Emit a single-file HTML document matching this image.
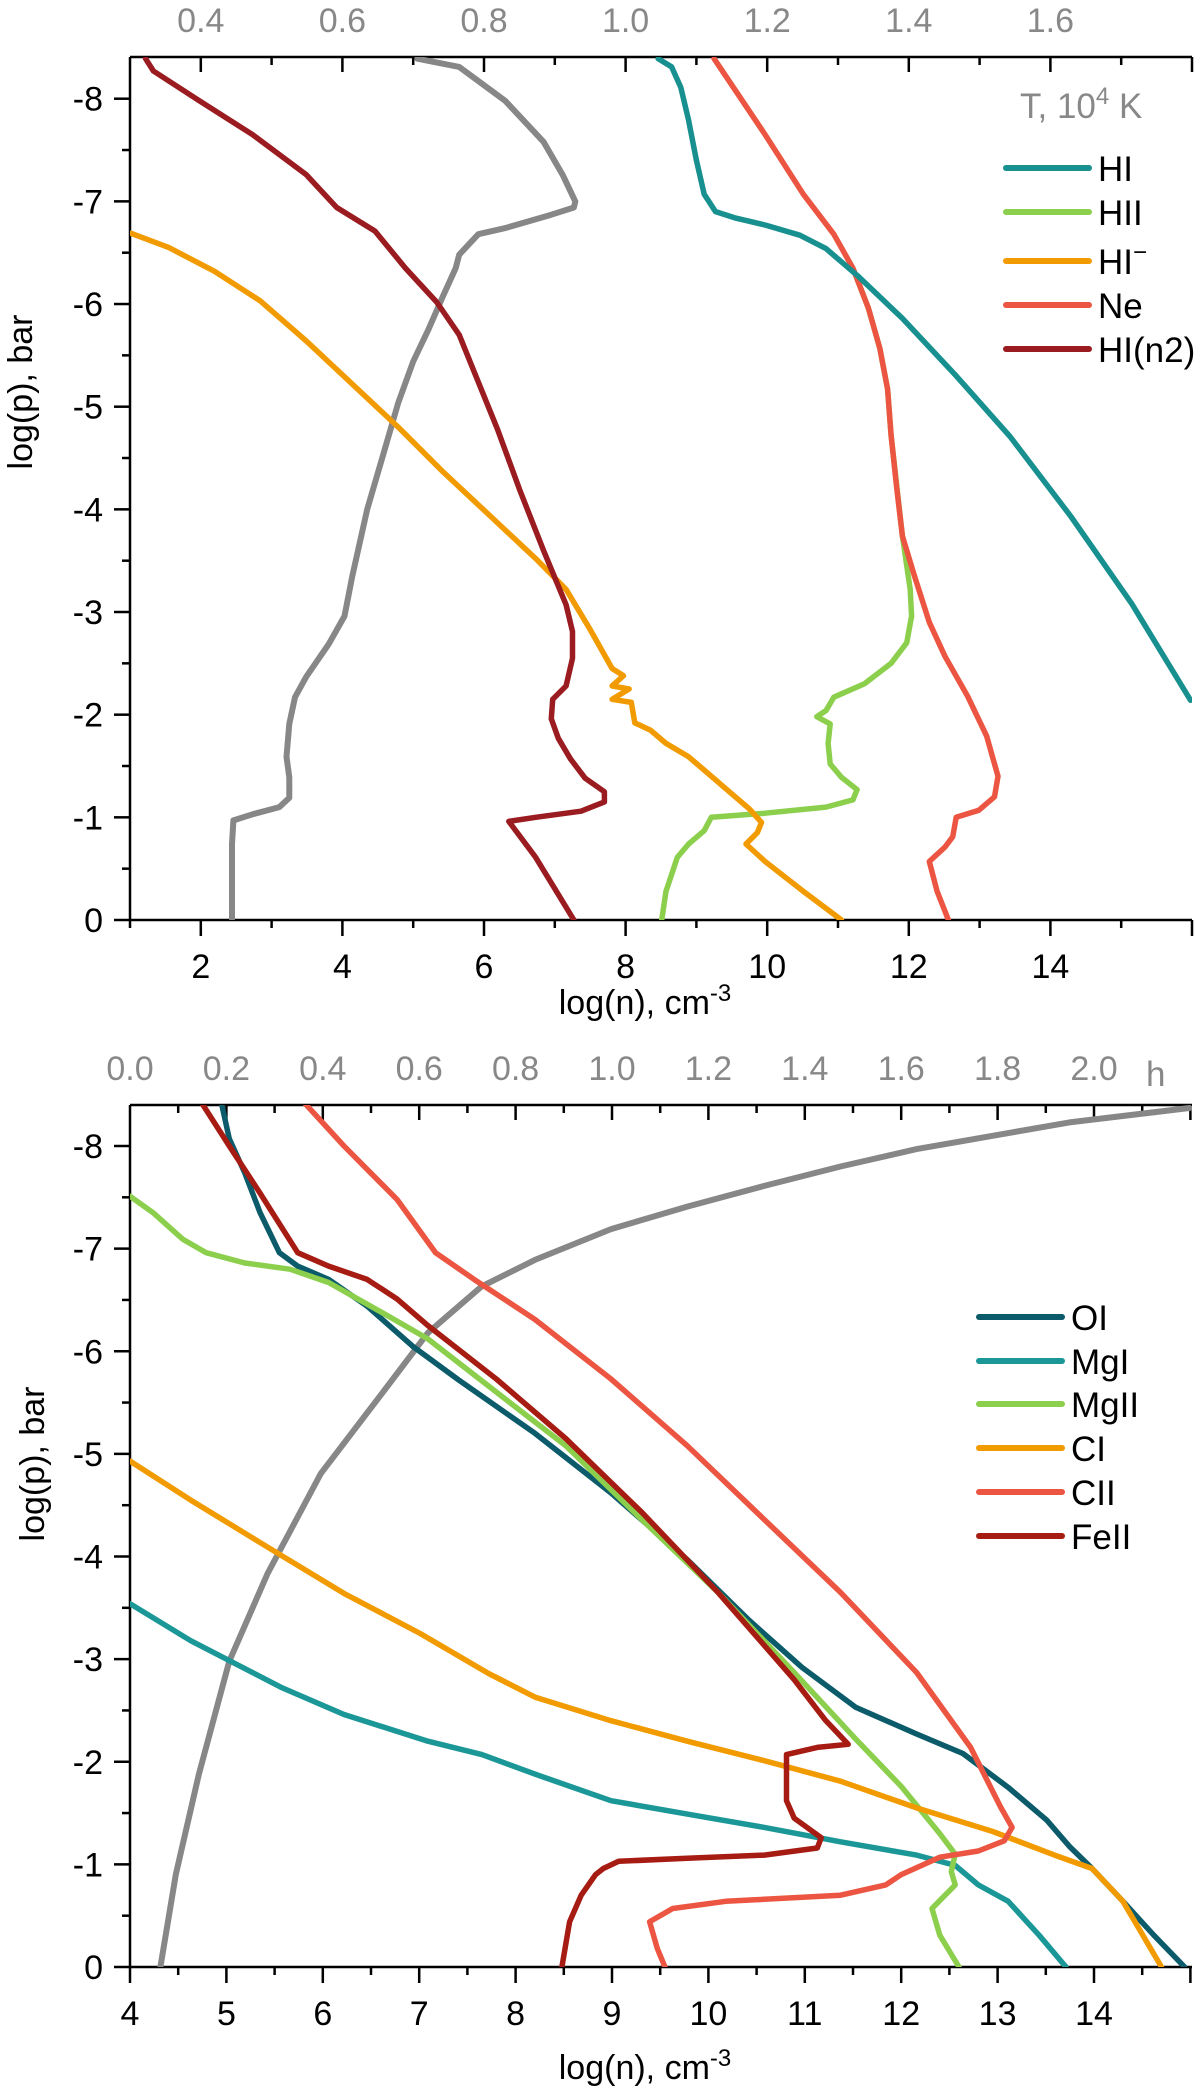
<!DOCTYPE html>
<html><head><meta charset="utf-8"><style>
html,body{margin:0;padding:0;background:#fff;}
svg{display:block;font-family:"Liberation Sans",Arial,sans-serif;}
</style></head><body>
<svg id="chart" width="1200" height="2088" viewBox="0 0 1200 2088" xmlns="http://www.w3.org/2000/svg"></svg>
<script>
// ---------- Top panel data (log n, log p) ----------
const hiN=[8.46,8.65,8.78,8.89,9.00,9.11,9.27,9.54,9.97,10.46,10.83,11.27,11.91,12.67,13.43,14.29,15.15,15.98];
const hiP=[-8.39,-8.31,-8.11,-7.79,-7.40,-7.07,-6.90,-6.84,-6.77,-6.67,-6.54,-6.28,-5.86,-5.30,-4.71,-3.93,-3.08,-2.14];
const hiiN=[11.21,11.43,11.59,11.70,11.75,11.91,12.02,12.04,11.97,11.75,11.37,10.94,10.83,10.70,10.89,10.86,10.89,11.05,11.27,11.21,10.83,9.97,9.21,9.11,8.89,8.73,8.57,8.51];
const hiiP=[-6.35,-5.96,-5.57,-5.17,-4.72,-3.74,-3.22,-2.96,-2.70,-2.50,-2.30,-2.17,-2.04,-1.98,-1.91,-1.72,-1.52,-1.39,-1.27,-1.17,-1.10,-1.04,-1.00,-0.87,-0.74,-0.61,-0.28,0];
const himN=[1.01,1.55,2.19,2.84,3.49,4.14,4.79,5.43,6.08,6.73,7.16,7.49,7.81,7.97,7.81,8.05,7.81,8.08,8.13,8.35,8.57,8.89,9.11,9.43,9.75,9.92,9.86,9.70,9.97,10.51,11.05];
const himP=[-6.69,-6.55,-6.32,-6.03,-5.64,-5.22,-4.80,-4.36,-3.94,-3.52,-3.22,-2.84,-2.45,-2.38,-2.28,-2.25,-2.15,-2.12,-1.92,-1.85,-1.72,-1.59,-1.46,-1.27,-1.08,-0.95,-0.85,-0.74,-0.57,-0.28,0];
const neN=[9.25,9.97,10.51,10.94,11.21,11.43,11.59,11.70,11.75,11.83,11.91,12.08,12.29,12.51,12.83,13.10,13.26,13.21,12.99,12.67,12.62,12.51,12.29,12.40,12.56];
const neP=[-8.39,-7.65,-7.07,-6.68,-6.35,-5.96,-5.57,-5.17,-4.72,-4.20,-3.74,-3.35,-2.90,-2.57,-2.18,-1.79,-1.40,-1.20,-1.07,-1.00,-0.81,-0.71,-0.57,-0.28,0];
const n2N=[1.22,1.33,1.98,2.73,3.49,3.92,4.46,4.89,5.33,5.65,5.92,6.19,6.51,6.84,7.16,7.25,7.25,7.16,6.97,6.95,7.05,7.22,7.43,7.70,7.70,7.37,6.73,6.35,6.73,7.27];
const n2P=[-8.39,-8.27,-7.98,-7.65,-7.26,-6.94,-6.71,-6.35,-6.02,-5.70,-5.24,-4.78,-4.18,-3.60,-3.07,-2.81,-2.55,-2.28,-2.15,-1.96,-1.77,-1.57,-1.38,-1.25,-1.15,-1.06,-1.00,-0.96,-0.61,0];
// temperature profile (T in 1e4 K, log p)
const tempT=[0.706,0.765,0.830,0.884,0.911,0.929,0.927,0.895,0.830,0.792,0.765,0.760,0.743,0.722,0.700,0.679,0.657,0.635,0.614,0.603,0.581,0.549,0.533,0.525,0.521,0.525,0.525,0.511,0.473,0.446,0.444,0.444];
const tempP=[-8.39,-8.31,-7.98,-7.58,-7.26,-7.00,-6.94,-6.87,-6.74,-6.68,-6.48,-6.35,-6.09,-5.76,-5.44,-5.04,-4.52,-4.00,-3.35,-2.96,-2.69,-2.37,-2.17,-1.91,-1.59,-1.39,-1.19,-1.10,-1.03,-0.97,-0.74,0];
const topXTicks=[2,4,6,8,10,12,14];
const topTTicks=["0.4","0.6","0.8","1.0","1.2","1.4","1.6"];
const yTicks=[-8,-7,-6,-5,-4,-3,-2,-1,0];

// ---------- Bottom panel data ----------
const oiN=[4.95,5.03,5.19,5.35,5.55,5.74,6.06,6.46,6.93,7.41,8.20,8.99,9.78,10.42,10.97,11.53,12.16,12.64,13.11,13.51,13.75,13.98,14.30,14.62,14.94];
const oiP=[-8.41,-8.07,-7.74,-7.35,-6.96,-6.83,-6.70,-6.44,-6.05,-5.72,-5.20,-4.62,-3.97,-3.38,-2.92,-2.53,-2.27,-2.08,-1.75,-1.43,-1.17,-0.96,-0.64,-0.31,0];
const mgiN=[4.00,4.63,5.58,6.22,7.09,7.65,8.20,8.99,9.78,10.58,11.37,12.16,12.56,12.80,13.11,13.43,13.71];
const mgiP=[-3.54,-3.18,-2.72,-2.46,-2.20,-2.07,-1.88,-1.62,-1.49,-1.36,-1.22,-1.09,-0.99,-0.80,-0.64,-0.31,0];
const mgiiN=[4.00,4.24,4.55,4.79,5.19,5.66,6.06,6.61,7.09,7.72,8.52,9.31,10.10,10.89,11.53,12.00,12.40,12.56,12.52,12.56,12.32,12.40,12.60];
const mgiiP=[-7.51,-7.35,-7.09,-6.96,-6.86,-6.80,-6.67,-6.38,-6.12,-5.66,-5.08,-4.36,-3.65,-2.87,-2.22,-1.76,-1.30,-1.10,-0.93,-0.80,-0.57,-0.31,0];
const ciN=[4.00,4.63,5.43,6.22,7.01,7.72,8.20,8.99,9.78,10.58,11.37,12.16,12.95,13.59,13.98,14.30,14.70];
const ciP=[-4.93,-4.55,-4.09,-3.64,-3.25,-2.86,-2.63,-2.40,-2.20,-2.01,-1.81,-1.55,-1.32,-1.09,-0.96,-0.64,0];
const ciiN=[5.82,6.22,6.77,7.17,7.57,8.20,8.99,9.78,10.58,11.37,12.16,12.72,13.03,13.15,13.07,12.80,12.40,12.00,11.84,11.37,10.18,9.63,9.39,9.47,9.55];
const ciiP=[-8.41,-8.00,-7.48,-6.96,-6.70,-6.31,-5.73,-5.08,-4.36,-3.65,-2.87,-2.14,-1.56,-1.36,-1.23,-1.13,-1.07,-0.90,-0.80,-0.70,-0.64,-0.57,-0.44,-0.18,0];
const feiiN=[4.75,5.03,5.35,5.74,6.06,6.46,6.77,7.09,7.80,8.52,9.31,10.10,10.89,11.21,11.45,11.13,10.81,10.81,10.81,10.89,11.17,11.13,10.58,9.78,9.07,8.91,8.83,8.68,8.56,8.48];
const feiiP=[-8.41,-8.00,-7.54,-6.96,-6.83,-6.70,-6.51,-6.25,-5.73,-5.15,-4.43,-3.65,-2.80,-2.41,-2.17,-2.14,-2.07,-1.88,-1.62,-1.45,-1.26,-1.16,-1.09,-1.06,-1.03,-0.96,-0.90,-0.70,-0.44,0];
// height profile (h, log p)
const hgtH=[0.063,0.095,0.143,0.206,0.285,0.396,0.523,0.618,0.729,0.840,0.998,1.157,1.315,1.474,1.632,1.791,1.949,2.198];
const hgtP=[0,-0.90,-1.88,-2.98,-3.83,-4.81,-5.59,-6.18,-6.63,-6.89,-7.19,-7.41,-7.61,-7.80,-7.97,-8.10,-8.23,-8.37];
const botXTicks=[4,5,6,7,8,9,10,11,12,13,14];
const botHTicks=["0.0","0.2","0.4","0.6","0.8","1.0","1.2","1.4","1.6","1.8","2.0"];

const NS="http://www.w3.org/2000/svg";
const svgRoot=document.getElementById('chart');
function el(tag,attrs,parent){const e=document.createElementNS(NS,tag);for(const k in attrs)e.setAttribute(k,attrs[k]);(parent||svgRoot).appendChild(e);return e;}
const FS=34;

function panel(cfg){
  const g=el('g',{});
  
  
  const L=130,R=1192,T=cfg.top,B=cfg.bottom;
  const sx=v=>L+(v-cfg.xmin)*cfg.xs;
  const sy=v=>B+(v)*(B-cfg.y8)/8;
  const ax=el('path',{d:`M${L} ${T}H${R}M${L} ${T}V${B}H${R}`,stroke:'#000','stroke-width':2.5,fill:'none'},g);
  
  
  for(let v=0;v>=-8;v-=0.5){
    const y=sy(v);const maj=Number.isInteger(v);
    el('line',{x1:L-(maj?16:8),x2:L,y1:y,y2:y,stroke:'#000','stroke-width':2.5},g);
  }
  yTicks.forEach(v=>{
    const t=el('text',{x:103,y:sy(v)+12,'text-anchor':'end','font-size':FS,fill:'#000'},g);
    t.textContent=String(v);
    
    
  });
  for(let v=cfg.xmin;v<=cfg.xmax+1e-6;v+=cfg.minor){
    const x=sx(v);const maj=Math.abs(Math.round(v/cfg.major)*cfg.major-v)<1e-6;
    el('line',{x1:x,x2:x,y1:B,y2:B+(maj?16:8),stroke:'#000','stroke-width':2.5},g);
    if(v>cfg.xmin+1e-6) el('line',{x1:x,x2:x,y1:T,y2:T+(maj?15:8),stroke:'#000','stroke-width':2.5},g);
  }
  cfg.xTicks.forEach(v=>{
    const t=el('text',{x:sx(v),y:B+58,'text-anchor':'middle','font-size':FS,fill:'#000'},g);
    t.textContent=String(v);
    
    
  });
  cfg.topTicks.forEach((s,i)=>{
    const t=el('text',{x:sx(cfg.topTickX[i]),y:T-25,'text-anchor':'middle','font-size':FS,fill:'#888'},g);
    t.textContent=s;
    
    
  });
  const xt=el('text',{x:645,y:cfg.xTitleY,'text-anchor':'middle','font-size':FS,fill:'#000'},g);
  xt.innerHTML='log(n), cm<tspan dy="-13" font-size="24">-3</tspan>';
  
  
  const yt=el('text',{x:0,y:0,'text-anchor':'middle','font-size':FS,fill:'#000',transform:`translate(${cfg.yTitleX},${cfg.yTitleY}) rotate(-90)`},g);
  yt.textContent='log(p), bar';
  
  
  const clip=el('clipPath',{id:cfg.name+'-clip'},g);
  el('rect',{x:L,y:T,width:R-L,height:B-T},clip);
  const lines=el('g',{'clip-path':`url(#${cfg.name+'-clip'})`},g);
  cfg.series.forEach(s=>{
    const xs=s.conv?s.x.map(s.conv):s.x;
    const d=xs.map((v,i)=>(i?'L':'M')+sx(v).toFixed(1)+' '+sy(s.y[i]).toFixed(1)).join('');
    const p=el('path',{d,stroke:s.color,'stroke-width':s.w||5.5,fill:'none','stroke-linejoin':'round','stroke-linecap':'round'},lines);
    
    
  });
  cfg.legend.forEach((s,i)=>{
    const y=cfg.legY[i];
    const lg=el('g',{},g);
    
    
    el('line',{x1:cfg.legX,x2:cfg.legX+83,y1:y,y2:y,stroke:s.color,'stroke-width':6,'stroke-linecap':'round'},lg);
    const t=el('text',{x:cfg.legX+92,y:y+13,'font-size':35,fill:'#000'},lg);
    t.innerHTML=s.label;
  });
  return {sx,sy,g};
}

const c={teal:'#17908f',green:'#8ccf4d',orange:'#f29b00',red:'#ec5541',dred:'#9a1c20',gray:'#878787',oi:'#0b5b6a',mgi:'#1b9797',feii:'#a61b12'};
const topSeries=[
  {id:'temperature',x:tempT,y:tempP,color:c.gray,w:6,conv:t=>2+(t-0.4)*10},
  {id:'HII',x:hiiN,y:hiiP,color:c.green,label:'HII'},
  {id:'HI-minus',x:himN,y:himP,color:c.orange,label:'HI<tspan dy="-14" font-size="24">−</tspan>'},
  {id:'Ne',x:neN,y:neP,color:c.red,label:'Ne'},
  {id:'HI',x:hiN,y:hiP,color:c.teal,label:'HI'},
  {id:'HI-n2',x:n2N,y:n2P,color:c.dred,label:'HI(n2)'}
];
const topPanel=panel({name:'top-panel',top:57,bottom:920,y8:98.7,xmin:1,xmax:16,xs:70.8,minor:1,major:2,
  xTicks:topXTicks,topTicks:topTTicks,topTickX:[2,4,6,8,10,12,14],xTitleY:1014,yTitleX:32,yTitleY:392,
  series:topSeries,legend:[topSeries[4],topSeries[1],topSeries[2],topSeries[3],topSeries[5]],legX:1006,legY:[168,212,261,305,349]});
const tl=el('text',{x:1020,y:118,'font-size':35,fill:'#888'},topPanel.g);
tl.innerHTML='T, 10<tspan dy="-14" font-size="24">4</tspan><tspan dy="14"> K</tspan>';



const botSeries=[
  {id:'height',x:hgtH,y:hgtP,color:c.gray,w:6,conv:h=>4+h*5},
  {id:'OI',x:oiN,y:oiP,color:c.oi,label:'OI'},
  {id:'MgI',x:mgiN,y:mgiP,color:c.mgi,label:'MgI'},
  {id:'MgII',x:mgiiN,y:mgiiP,color:c.green,label:'MgII'},
  {id:'CI',x:ciN,y:ciP,color:c.orange,label:'CI'},
  {id:'CII',x:ciiN,y:ciiP,color:c.red,label:'CII'},
  {id:'FeII',x:feiiN,y:feiiP,color:c.feii,label:'FeII'}
];
const botPanel=panel({name:'bottom-panel',top:1105,bottom:1967,y8:1146,xmin:4,xmax:15.02,xs:96.4,minor:0.5,major:1,
  xTicks:botXTicks,topTicks:botHTicks,topTickX:[4,5,6,7,8,9,10,11,12,13,14],xTitleY:2079,yTitleX:44,yTitleY:1464,
  series:botSeries,legend:botSeries.slice(1),legX:979,legY:[1317,1361,1404,1448,1492,1536]});
const hl=el('text',{x:1146,y:1086,'font-size':35,fill:'#888'},botPanel.g);
hl.textContent='h';


</script>
</body></html>
